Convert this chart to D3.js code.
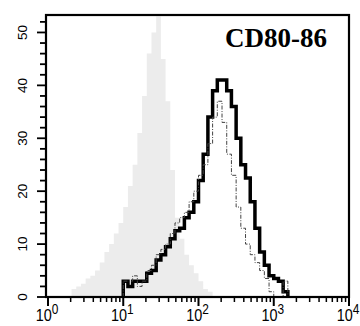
<!DOCTYPE html>
<html>
<head>
<meta charset="utf-8">
<script src="https://cdn.jsdelivr.net/npm/d3@7"></script>
<style>
  body { margin: 0; background: #fff; }
  svg { display: block; }
  .tick-label { font-family: "Liberation Sans", Arial, sans-serif; fill: #000; }
  .title { font-family: "Liberation Serif", "Times New Roman", serif; font-weight: bold; fill: #000; }
</style>
</head>
<body>
<div id="wrapper"></div>
<script>
// Histogram channels: 16 bins per decade, counts.
const binsPerDecade = 16;

// Isotype control (grey filled), starts at bin 5
const controlFirstBin = 5;
const controlCounts = [1.5, 2, 2.5, 3.5, 4, 5, 6.5, 8.5, 10, 12, 14, 17, 21, 25, 31,
  38, 46, 50, 53, 45, 37, 24, 15, 11, 8, 6, 4.5, 3, 1.5, 1];

// CD80-86 stained (thick black), starts at bin 16
const stainFirstBin = 16;
const stainCounts = [3, 2, 3, 3, 3, 4.5, 5, 7, 8, 9.5, 11, 12.5, 13, 15, 16, 18,
  22, 27, 34, 39, 41, 41, 39, 36, 30, 25, 22.5, 18, 13, 8.5, 6, 4, 3.5, 3, 1];

// Second sample (dash-dot), starts at bin 16
const dashFirstBin = 16;
const dashCounts = [3, 3, 4, 2, 3, 5, 6, 8, 9, 10, 12, 14, 15, 16, 18, 20, 23, 25,
  29, 34, 37, 33, 27, 23, 17, 13, 10, 8, 6.5, 5, 3.5, 1, 0, 0, 3, 0];

const yMajorTicks = [0, 10, 20, 30, 40, 50];
const xDecades = [0, 1, 2, 3, 4];
const titleText = "CD80-86";

const dimensions = {
  width: 360,
  height: 326,
  margin: { top: 15, right: 11, bottom: 29, left: 48 },
};

const svg = d3.select("#wrapper").append("svg")
  .attr("width", dimensions.width)
  .attr("height", dimensions.height);

const xScale = d3.scaleLog()
  .domain([1, 10000])
  .range([dimensions.margin.left, dimensions.width - dimensions.margin.right]);
const yScale = d3.scaleLinear()
  .domain([0, 53.3])
  .range([dimensions.height - dimensions.margin.bottom, dimensions.margin.top]);

// counts -> step points (left edge of each bin, plus a closing zero)
function toSteps(firstBin, counts) {
  const pts = counts.map((c, i) => ({ x: 10 ** ((firstBin + i) / binsPerDecade), y: c }));
  pts.unshift({ x: 10 ** (firstBin / binsPerDecade), y: 0 });
  pts.push({ x: 10 ** ((firstBin + counts.length) / binsPerDecade), y: 0 });
  return pts;
}

const area = d3.area()
  .curve(d3.curveStepAfter)
  .x(d => xScale(d.x))
  .y0(yScale(0))
  .y1(d => yScale(d.y));
const line = d3.line()
  .curve(d3.curveStepAfter)
  .x(d => xScale(d.x))
  .y(d => yScale(d.y));

svg.append("path")
  .attr("d", area(toSteps(controlFirstBin, controlCounts)))
  .attr("fill", "#ececec");

svg.append("path")
  .attr("d", line(toSteps(stainFirstBin, stainCounts)))
  .attr("fill", "none")
  .attr("stroke", "#000")
  .attr("stroke-width", 3.5);

svg.append("path")
  .attr("d", line(toSteps(dashFirstBin, dashCounts)))
  .attr("fill", "none")
  .attr("stroke", "#444")
  .attr("stroke-width", 1)
  .attr("stroke-dasharray", "4,1.5,1,1.5");

// frame
const x0 = 46, x1 = 349;
const y0 = yScale(0), y1 = dimensions.margin.top;
svg.append("rect")
  .attr("x", x0).attr("y", y1)
  .attr("width", x1 - x0).attr("height", y0 - y1)
  .attr("fill", "none")
  .attr("stroke", "#000")
  .attr("stroke-width", 2.2);

// y ticks: major every 10, minor every 2
const yMinor = d3.range(0, 53, 2);
svg.append("g").selectAll("line")
  .data(yMinor)
  .join("line")
    .attr("x1", d => yMajorTicks.includes(d) ? x0 - 9 : x0 - 6)
    .attr("x2", x0)
    .attr("y1", d => yScale(d))
    .attr("y2", d => yScale(d))
    .attr("stroke", "#000")
    .attr("stroke-width", 1.8);

svg.append("g").selectAll("text")
  .data(yMajorTicks)
  .join("text")
    .attr("class", "tick-label")
    .attr("transform", d => `translate(27, ${yScale(d)}) rotate(-90)`)
    .attr("text-anchor", "middle")
    .style("font-size", "13.5px")
    .text(d => d);

// x ticks: log decades with 2..9 minors
const xMinor = [];
xDecades.slice(0, -1).forEach(k => {
  for (let m = 2; m <= 9; m++) xMinor.push(m * 10 ** k);
});
svg.append("g").selectAll("line")
  .data(xMinor)
  .join("line")
    .attr("x1", d => xScale(d))
    .attr("x2", d => xScale(d))
    .attr("y1", y0)
    .attr("y2", y0 + 5)
    .attr("stroke", "#000")
    .attr("stroke-width", 1.5);
svg.append("g").selectAll("line")
  .data(xDecades)
  .join("line")
    .attr("x1", d => xScale(10 ** d))
    .attr("x2", d => xScale(10 ** d))
    .attr("y1", y0)
    .attr("y2", y0 + 9)
    .attr("stroke", "#000")
    .attr("stroke-width", 2);

const xLabels = svg.append("g").selectAll("text")
  .data(xDecades)
  .join("text")
    .attr("class", "tick-label")
    .attr("transform", d => `translate(${xScale(10 ** d) - 1}, 321) scale(0.85, 1)`)
    .attr("text-anchor", "middle")
    .style("font-size", "17px");
xLabels.append("tspan").text("10");
xLabels.append("tspan")
  .attr("dy", -7)
  .style("font-size", "14px")
  .text(d => d);

// title
svg.append("text")
  .attr("class", "title")
  .attr("x", 327)
  .attr("y", 47)
  .attr("text-anchor", "end")
  .style("font-size", "27px")
  .text(titleText);
</script>
</body>
</html>
